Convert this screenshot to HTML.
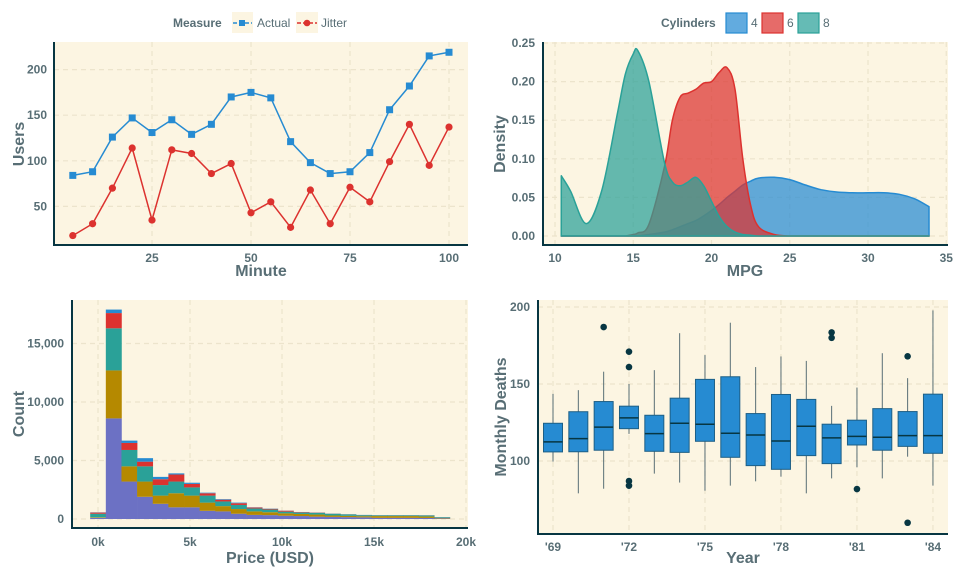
<!DOCTYPE html>
<html><head><meta charset="utf-8">
<style>
body{margin:0;background:#fff;width:960px;height:576px;overflow:hidden;font-family:"Liberation Sans",sans-serif}
svg text{font-family:"Liberation Sans",sans-serif}
</style></head>
<body>
<svg id="s" width="960" height="576" viewBox="0 0 960 576"></svg>
<script>
// ---- Chart 1 data ----
const minutes=[5,10,15,20,25,30,35,40,45,50,55,60,65,70,75,80,85,90,95,100];
const actual=[84,88,126,147,131,145,129,140,170,175,169,121,98,86,88,109,156,182,215,219];
const jitter=[18,31,70,114,35,112,108,86,97,43,55,27,68,31,71,55,99,140,95,137];
const c1XTicks=[25,50,75,100];
const c1YTicks=[50,100,150,200];
// ---- Chart 2 data ----
const mpgGrid=[10.4,11,12,13,14,14.5,15,15.3,16,17,17.5,18,18.5,19,19.5,20,20.5,21,21.5,22,22.5,23,24,25,26,27,28,29,30,31,32,33,33.9];
const dens4=[0,0,0,0,0,0,0,0,0.002,0.005,0.008,0.012,0.016,0.02,0.026,0.033,0.041,0.05,0.058,0.066,0.071,0.075,0.076,0.073,0.066,0.06,0.057,0.056,0.056,0.056,0.054,0.048,0.038];
const dens6=[0,0,0,0,0,0,0.002,0.004,0.015,0.09,0.15,0.18,0.185,0.19,0.198,0.2,0.212,0.218,0.19,0.1,0.04,0.012,0.002,0,0,0,0,0,0,0,0,0,0];
const dens8=[0.078,0.058,0.016,0.06,0.16,0.21,0.236,0.24,0.2,0.095,0.07,0.065,0.07,0.076,0.065,0.045,0.025,0.012,0.005,0.002,0.001,0,0,0,0,0,0,0,0,0,0,0,0];
const c2XTicks=[10,15,20,25,30,35];
const c2YTicks=[0,0.05,0.10,0.15,0.20,0.25];
// ---- Chart 3 data (per-segment counts) ----
const binStart=[-425,425,1275,2125,2975,3825,4675,5525,6375,7225,8075,8925,9775,10625,11475,12325,13175,14025,14875,15725,16575,17425,18275];
const cntViolet=[100,8600,3200,1900,1300,1000,1000,700,650,450,350,330,280,250,200,180,160,140,100,100,100,90,50];
const cntGold=[50,4100,1300,1300,700,1200,1000,700,450,400,300,250,200,180,180,120,110,100,150,150,150,130,40];
const cntCyan=[300,3600,1400,1300,900,1000,700,600,400,350,250,230,150,120,150,150,120,90,60,60,60,80,60];
const cntRed=[100,1300,600,400,500,600,300,200,150,150,80,60,80,40,20,10,10,10,10,10,10,10,10];
const cntBlue=[20,300,200,300,200,100,100,50,50,50,20,20,10,10,10,10,10,10,10,10,10,10,10];
const binWidth=850;
const c3XTicks=[0,5000,10000,15000,20000];
const c3XLabels=["0k","5k","10k","15k","20k"];
const c3YTicks=[0,5000,10000,15000];
const c3YLabels=["0","5,000","10,000","15,000"];
// ---- Chart 4 data ----
const years=[1969,1970,1971,1972,1973,1974,1975,1976,1977,1978,1979,1980,1981,1982,1983,1984];
const wLow=[99.6,79,82,117.6,91.8,86,80.7,84,86.8,89.8,79,88.7,95.9,88.7,102.8,84];
const q1=[105.9,106,107,121,106.3,105.6,112.8,102.4,97,94.6,103.5,98.3,110.4,107,109.5,105];
const med=[112.4,114.5,122,128,117.8,124.5,123.9,118,116.9,113,122.6,115,116,115.4,116.5,116.5];
const q3=[124.5,132,138.6,135.6,129.7,140.8,153,154.7,130.8,143.2,140,123.9,126.5,134,132.1,143.4];
const wHigh=[143.6,146,158,150,159,183,168.8,189.8,161,167.9,165,135.8,147.7,170,153.8,197.8];
const outYear=[1971,1972,1972,1972,1972,1980,1980,1981,1983,1983];
const outVal=[187,171,161,87,84,183.5,180,81.8,168,59.9];
const c4XTicks=[1969,1972,1975,1978,1981,1984];
const c4YTicks=[100,150,200];

const NS="http://www.w3.org/2000/svg";
const svg=document.getElementById('s');
function mk(tag,attrs,parent){const e=document.createElementNS(NS,tag);for(const k in attrs)e.setAttribute(k,attrs[k]);(parent||svg).appendChild(e);return e;}
function txt(x,y,s,attrs,parent){const t=mk('text',Object.assign({x:x,y:y,fill:'#586e75','font-weight':'bold','font-size':12},attrs),parent);t.textContent=s;return t;}
const BG='#fcf5e2',GRID='#ece4cc',AX='#073642';

function panel(x0,y0,x1,y1,name){
  const g=mk('g',{});
  
  
  const r=mk('rect',{x:x0,y:y0,width:x1-x0,height:y1-y0,fill:BG},g);
  
  
  return g;
}
function gridV(g,x,y0,y1){const l=mk('line',{x1:x,x2:x,y1:y0,y2:y1,stroke:GRID,'stroke-width':1.2,'stroke-dasharray':'5,4'},g);}
function gridH(g,y,x0,x1){const l=mk('line',{x1:x0,x2:x1,y1:y,y2:y,stroke:GRID,'stroke-width':1.2,'stroke-dasharray':'5,4'},g);}
function axes(g,x0,y0,x1,y1){
  const a=mk('line',{x1:x0,x2:x0,y1:y0,y2:y1,stroke:AX,'stroke-width':2},g);
  const b=mk('line',{x1:x0-1,x2:x1,y1:y1,y2:y1,stroke:AX,'stroke-width':2},g);
}
function smoothPath(pts,maxY){
  let d='';
  for(let i=0;i<pts.length-1;i++){
    const p0=pts[Math.max(0,i-1)],p1=pts[i],p2=pts[i+1],p3=pts[Math.min(pts.length-1,i+2)];
    const c1x=p1[0]+(p2[0]-p0[0])/6,c1y=Math.min(maxY,p1[1]+(p2[1]-p0[1])/6);
    const c2x=p2[0]-(p3[0]-p1[0])/6,c2y=Math.min(maxY,p2[1]-(p3[1]-p1[1])/6);
    d+=' C'+c1x.toFixed(1)+','+c1y.toFixed(1)+' '+c2x.toFixed(1)+','+c2y.toFixed(1)+' '+p2[0].toFixed(1)+','+p2[1].toFixed(1);
  }
  return d;
}

// ===== Chart 1 =====
(function(){
  const X0=54,X1=468,Y0=42,Y1=245;
  const sx=v=>53+v*3.96, sy=v=>252-v*0.912;
  const g=panel(X0,Y0,X1,Y1,'users-line-chart');
  c1XTicks.forEach(t=>{gridV(g,sx(t),Y0,Y1);const l=txt(sx(t),262,t,{'text-anchor':'middle'},g);});
  c1YTicks.forEach(t=>{gridH(g,sy(t),X0,X1);const l=txt(47,sy(t)+4,t,{'text-anchor':'end'},g);});
  axes(g,X0,Y0,X1,Y1);
  const la=mk('polyline',{points:minutes.map((m,i)=>sx(m)+','+sy(actual[i])).join(' '),fill:'none',stroke:'#268bd2','stroke-width':1.5},g);
  
  const lj=mk('polyline',{points:minutes.map((m,i)=>sx(m)+','+sy(jitter[i])).join(' '),fill:'none',stroke:'#dc322f','stroke-width':1.5},g);
  
  minutes.forEach((m,i)=>{
    const p=mk('rect',{x:sx(m)-3.5,y:sy(actual[i])-3.5,width:7,height:7,fill:'#268bd2'},g);
    
    const q=mk('circle',{cx:sx(m),cy:sy(jitter[i]),r:3.6,fill:'#dc322f'},g);
    
  });
  const xt=txt(261,276,'Minute',{'text-anchor':'middle','font-size':16},g);
  const yt=txt(0,0,'Users',{'text-anchor':'middle','font-size':16,transform:'translate(24,144) rotate(-90)'},g);
  const lg=mk('g',{},g);
  txt(173,27,'Measure',{'font-size':12},lg);
  const e1=mk('g',{},lg);
  mk('rect',{x:232,y:12,width:21,height:21,fill:BG},e1);
  mk('line',{x1:233,x2:252,y1:23,y2:23,stroke:'#268bd2','stroke-width':1.5,'stroke-dasharray':'4,2'},e1);
  mk('rect',{x:239,y:20,width:6,height:6,fill:'#268bd2'},e1);
  txt(257,27,'Actual',{'font-weight':'normal'},e1);
  const e2=mk('g',{},lg);
  mk('rect',{x:296,y:12,width:22,height:21,fill:BG},e2);
  mk('line',{x1:297,x2:317,y1:23,y2:23,stroke:'#dc322f','stroke-width':1.5,'stroke-dasharray':'4,2'},e2);
  mk('circle',{cx:307,cy:23,r:3.3,fill:'#dc322f'},e2);
  txt(321,27,'Jitter',{'font-weight':'normal'},e2);
})();

// ===== Chart 2 =====
(function(){
  const X0=543,X1=948,Y0=42,Y1=245;
  const sx=v=>555+(v-10)*15.65, sy=v=>236-v*772;
  const g=panel(X0,Y0,X1,Y1,'mpg-density-chart');
  c2XTicks.forEach(t=>{gridV(g,sx(t),Y0,Y1);const l=txt(sx(t),262,t,{'text-anchor':'middle'},g);});
  c2YTicks.forEach(t=>{gridH(g,sy(t),X0,X1);const l=txt(535,sy(t)+4,t.toFixed(2),{'text-anchor':'end'},g);});
  axes(g,X0,Y0,X1,Y1);
  const series=[[dens4,'#268bd2','density-4-cyl'],[dens6,'#dc322f','density-6-cyl'],[dens8,'#2aa198','density-8-cyl']];
  series.forEach(([d,c,n])=>{
    const pts=mpgGrid.map((m,i)=>[sx(m),sy(d[i])]);
    const path='M'+sx(mpgGrid[0])+','+sy(0)+' L'+pts[0][0].toFixed(1)+','+pts[0][1].toFixed(1)+smoothPath(pts,sy(0))+' L'+sx(mpgGrid[mpgGrid.length-1])+','+sy(0)+' Z';
    const p=mk('path',{d:path,fill:c,'fill-opacity':0.72,stroke:c,'stroke-width':1.5,'stroke-linejoin':'round'},g);
    
  });
  const xt=txt(745,276,'MPG',{'text-anchor':'middle','font-size':16},g);
  const yt=txt(0,0,'Density',{'text-anchor':'middle','font-size':16,transform:'translate(505,144) rotate(-90)'},g);
  const lg=mk('g',{},g);
  txt(661,27,'Cylinders',{'font-size':12},lg);
  [['4','#268bd2',726],['6','#dc322f',762],['8','#2aa198',798]].forEach(([l,c,x])=>{
    const e=mk('g',{},lg);
    mk('rect',{x:x,y:13,width:21,height:20,fill:c,'fill-opacity':0.72,stroke:c,'stroke-width':1.2},e);
    txt(x+25,27,l,{'font-weight':'normal'},e);
  });
})();

// ===== Chart 3 =====
(function(){
  const X0=72,X1=468,Y0=300,Y1=528;
  const sx=v=>98+v*0.0184, sy=v=>519-v*0.0117;
  const g=panel(X0,Y0,X1,Y1,'price-histogram');
  c3XTicks.forEach((t,i)=>{gridV(g,sx(t),Y0,Y1);const l=txt(sx(t),546,c3XLabels[i],{'text-anchor':'middle'},g);});
  c3YTicks.forEach((t,i)=>{gridH(g,sy(t),X0,X1);const l=txt(64,sy(t)+4,c3YLabels[i],{'text-anchor':'end'},g);});
  axes(g,X0,Y0,X1,Y1);
  const layers=[[cntViolet,'#6c71c4'],[cntGold,'#b58900'],[cntCyan,'#2aa198'],[cntRed,'#dc322f'],[cntBlue,'#268bd2']];
  binStart.forEach((b,i)=>{
    let base=0;
    layers.forEach(([arr,c])=>{
      const v=arr[i];
      const r=mk('rect',{x:sx(b),y:sy(base+v),width:sx(b+binWidth)-sx(b)+0.3,height:sy(base)-sy(base+v),fill:c},g);
      
      base+=v;
    });
  });
  const xt=txt(270,563,'Price (USD)',{'text-anchor':'middle','font-size':16},g);
  const yt=txt(0,0,'Count',{'text-anchor':'middle','font-size':16,transform:'translate(24,414) rotate(-90)'},g);
})();

// ===== Chart 4 =====
(function(){
  const X0=538,X1=948,Y0=300,Y1=534;
  const sx=v=>553+(v-1969)*25.33, sy=v=>307+(200-v)*1.54;
  const g=panel(X0,Y0,X1,Y1,'monthly-deaths-boxplot');
  c4XTicks.forEach(t=>{gridV(g,sx(t),Y0,Y1);const l=txt(sx(t),551,"'"+String(t).slice(2),{'text-anchor':'middle'},g);});
  c4YTicks.forEach(t=>{gridH(g,sy(t),X0,X1);const l=txt(530,sy(t)+4,t,{'text-anchor':'end'},g);});
  axes(g,X0,Y0,X1,Y1);
  years.forEach((yr,i)=>{
    const cx=sx(yr),w=19;
    const bg=mk('g',{},g);
    mk('line',{x1:cx,x2:cx,y1:sy(wHigh[i]),y2:sy(q3[i]),stroke:'#586e75','stroke-width':1},bg);
    mk('line',{x1:cx,x2:cx,y1:sy(q1[i]),y2:sy(wLow[i]),stroke:'#586e75','stroke-width':1},bg);
    mk('rect',{x:cx-w/2,y:sy(q3[i]),width:w,height:sy(q1[i])-sy(q3[i]),fill:'#268bd2',stroke:'#1d5f86','stroke-width':1},bg);
    mk('line',{x1:cx-w/2,x2:cx+w/2,y1:sy(med[i]),y2:sy(med[i]),stroke:'#073642','stroke-width':1.5},bg);
  });
  outYear.forEach((yr,i)=>{
    const c=mk('circle',{cx:sx(yr),cy:sy(outVal[i]),r:3.3,fill:'#073642'},g);
    
  });
  const xt=txt(743,563,'Year',{'text-anchor':'middle','font-size':16},g);
  const yt=txt(0,0,'Monthly Deaths',{'text-anchor':'middle','font-size':16,transform:'translate(506,417) rotate(-90)'},g);
})();
</script>
</body></html>
